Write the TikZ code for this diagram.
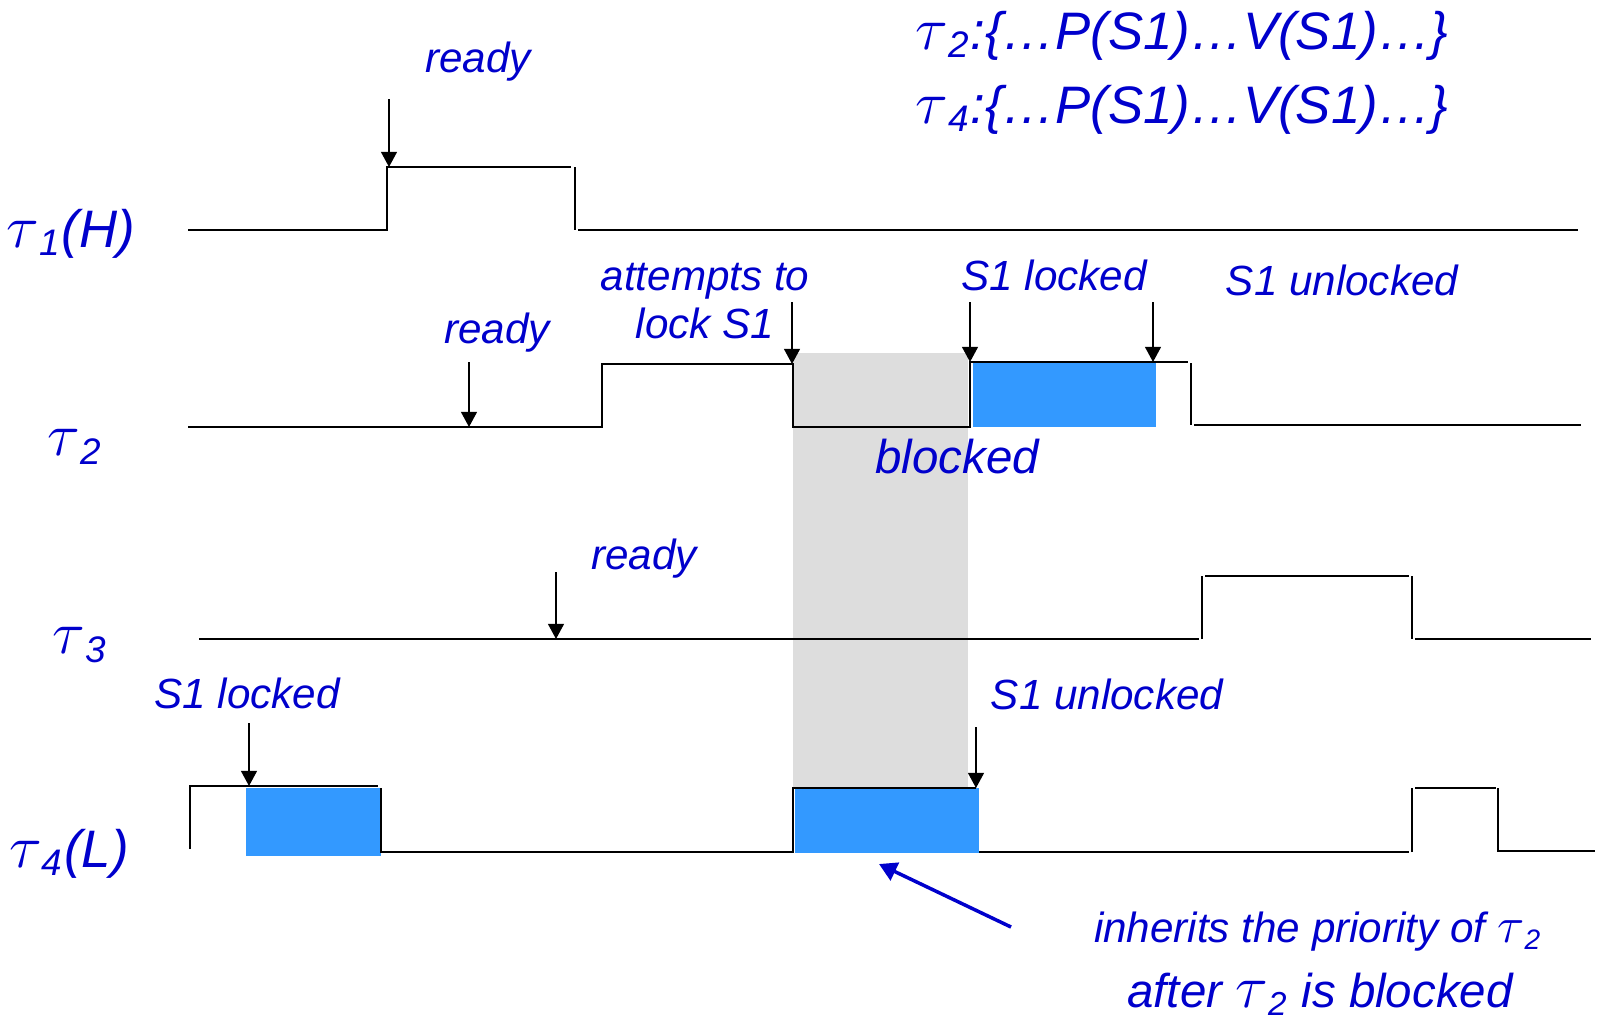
\documentclass[tikz,border=0pt]{standalone}
\usepackage{fontspec}
\usepackage{graphicx}
\setmainfont{Liberation Sans}
\usetikzlibrary{arrows.meta}
\definecolor{lblue}{RGB}{0,0,204}
\definecolor{cblue}{RGB}{51,153,255}
\definecolor{sgray}{RGB}{221,221,221}
\newcommand{\tsk}[1]{\scalebox{1.2}{$\tau$}\textsubscript{#1}}
\begin{document}
\begin{tikzpicture}[x=0.01cm, y=-0.01cm,
        sig/.style={line width=0.6pt},
        evt/.style={line width=0.5pt, -{Triangle[length=4.3pt, width=4.5pt]}},
        note/.style={text=lblue, inner sep=0pt, font=\itshape\fontsize{12}{13.7}\selectfont},
        wide/.style={text=lblue, inner sep=0pt, font=\itshape\fontsize{13.5}{16}\selectfont},
        big/.style={text=lblue, inner sep=0pt, font=\itshape\fontsize{15}{18}\selectfont},
        crit/.style={fill=cblue}]
    \useasboundingbox (0,0) rectangle (1601,1020);
    \fill[sgray] (793,353) rectangle (968,788);
    \fill[crit] (973,363) rectangle (1156,427);
    \fill[crit] (246,788) rectangle (381,856);
    \fill[crit] (795,788) rectangle (979,853);

    \draw[sig] (188,230) -- (387,230) -- (387,167) -- (571,167);
    \draw[sig] (575,167) -- (575,230);
    \draw[sig] (578,230) -- (1578,230);

    \draw[sig] (188,427) -- (602,427) -- (602,364) -- (793,364) -- (793,427) -- (970,427) -- (970,362) -- (1188,362);
    \draw[sig] (1191,363) -- (1191,425);
    \draw[sig] (1194,425) -- (1581,425);

    \draw[sig] (199,639) -- (1199,639);
    \draw[sig] (1202,639) -- (1202,576);
    \draw[sig] (1205,576) -- (1409,576);
    \draw[sig] (1412,576) -- (1412,639);
    \draw[sig] (1415,639) -- (1591,639);

    \draw[sig] (190,849) -- (190,786) -- (378,786);
    \draw[sig] (381,788) -- (381,852) -- (793,852) -- (793,788) -- (976,788);
    \draw[sig] (979,852) -- (1409,852);
    \draw[sig] (1412,852) -- (1412,788);
    \draw[sig] (1415,788) -- (1496,788);
    \draw[sig] (1498,788) -- (1498,851) -- (1595,851);

    \node[big] (t1) at (71,234) {\tsk{1}(H)};
    \node[big] (t2) at (75,447) {\tsk{2}};
    \node[big] (t3) at (80,645) {\tsk{3}};
    \node[big] (t4) at (69,854) {\tsk{4}(L)};
    \node[big] (code2) at (1182,36) {\tsk{2}:\{…P(S1)…V(S1)…\}};
    \node[big] (code4) at (1182,110) {\tsk{4}:\{…P(S1)…V(S1)…\}};

    \node[note] (rdy1) at (478,62) {ready};
    \node[note] (rdy2) at (497,333) {ready};
    \node[note] (rdy3) at (644,559) {ready};
    \node[note, align=center] (try2) at (705,301) {attempts to\\lock S1};
    \node[note] (lck2) at (1054,275) {S1 locked};
    \node[note] (ulk2) at (1342,280) {S1 unlocked};
    \node[note] (lck4) at (247,693) {S1 locked};
    \node[note] (ulk4) at (1107,694) {S1 unlocked};
    \node[wide] (blk2) at (957,457) {blocked};
    \node[note] (inh1) at (1318,932) {inherits the priority of \tsk{2}};
    \node[wide] (inh2) at (1320,994) {after \tsk{2} is blocked};

    \coordinate (rdy1a) at (389,99);   \coordinate (rdy1b) at (389,167);
    \coordinate (rdy2a) at (469,362);  \coordinate (rdy2b) at (469,427);
    \coordinate (try2a) at (792,302);  \coordinate (try2b) at (792,364);
    \coordinate (lck2a) at (970,302);  \coordinate (lck2b) at (970,362);
    \coordinate (ulk2a) at (1153,302); \coordinate (ulk2b) at (1153,362);
    \coordinate (rdy3a) at (556,572);  \coordinate (rdy3b) at (556,639);
    \coordinate (lck4a) at (249,723);  \coordinate (lck4b) at (249,786);
    \coordinate (ulk4a) at (976,727);  \coordinate (ulk4b) at (976,788);
    \coordinate (inha) at (1011,927);  \coordinate (inhb) at (879,864);

    \draw[evt] (rdy1a) -- (rdy1b);
    \draw[evt] (rdy2a) -- (rdy2b);
    \draw[evt] (try2a) -- (try2b);
    \draw[evt] (lck2a) -- (lck2b);
    \draw[evt] (ulk2a) -- (ulk2b);
    \draw[evt] (rdy3a) -- (rdy3b);
    \draw[evt] (lck4a) -- (lck4b);
    \draw[evt] (ulk4a) -- (ulk4b);
    \draw[lblue, line width=1pt, -{Triangle[length=5pt, width=5.5pt]}] (inha) -- (inhb);
\end{tikzpicture}
\end{document}
